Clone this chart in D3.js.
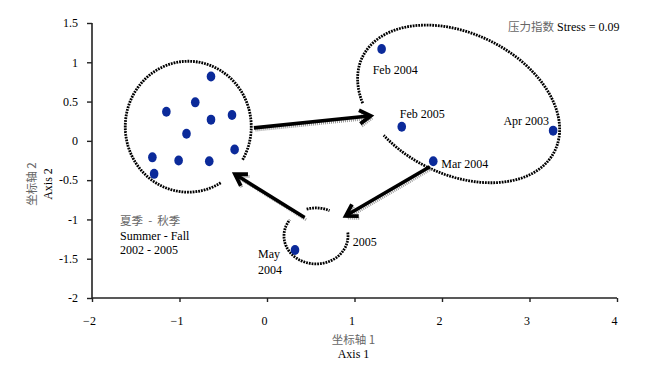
<!DOCTYPE html>
<html>
<head>
<meta charset="utf-8">
<script src="https://cdn.jsdelivr.net/npm/d3@7"></script>
<style>
  html, body { margin: 0; padding: 0; background: #fff; }
  svg { display: block; }
  text { font-family: "Liberation Serif", "Times New Roman", serif; font-size: 12px; fill: #000; }
  .cjk { font-family: "Noto Sans CJK SC", sans-serif; fill: #666; font-size: 11.5px; }
</style>
</head>
<body>
<svg id="chart" width="651" height="376"></svg>
<script>
// ---- data ----
const xTicks = [-2, -1, 0, 1, 2, 3, 4];
const yTicks = [1.5, 1, 0.5, 0, -0.5, -1, -1.5, -2];
const yTickLabels = ["1.5", "1", "0.5", "0", "-0.5", "-1", "-1.5", "-2"];

// Summer - Fall samples (unlabelled cluster)
const clusterX = [-0.64, -0.82, -1.15, -0.64, -0.40, -0.92, -0.37, -1.31, -1.01, -0.66, -1.29];
const clusterY = [0.82, 0.49, 0.37, 0.27, 0.33, 0.09, -0.11, -0.21, -0.25, -0.26, -0.42];

// labelled samples
const sampleNames = ["Feb 2004", "Feb 2005", "Apr 2003", "Mar 2004", "May 2004"];
const sampleX = [1.31, 1.54, 3.27, 1.90, 0.32];
const sampleY = [1.17, 0.18, 0.13, -0.26, -1.39];

// group outlines (data units; rotation in degrees)
const ellipseCX = [-0.90, 2.19, 0.56];
const ellipseCY = [0.18, 0.47, -1.21];
const ellipseRX = [0.72, 1.223, 0.366];
const ellipseRY = [0.833, 0.897, 0.356];
const ellipseRot = [0, 26, 0];
// drawn arcs (degrees) per ellipse
const ellipseArcs = [[[59, 392]], [[144, 480]], [[-107, -64], [-7, 216]]];

// arrows (data units)
const arrowX1 = [-0.15, 1.86, 0.43];
const arrowY1 = [0.165, -0.33, -0.976];
const arrowX2 = [1.185, 0.90, -0.366];
const arrowY2 = [0.318, -0.954, -0.424];

const stressLabel = ["压力指数", " Stress = 0.09"];
const seasonLabel = ["夏季  -  秋季", "Summer - Fall", "2002 - 2005"];

// ---- scales ----
const svg = d3.select("#chart");
const x = d3.scaleLinear().domain([-2, 4]).range([92, 617]);
const y = d3.scaleLinear().domain([-2, 1.5]).range([298, 23]);
const kx = x(1) - x(0), ky = y(0) - y(1);

// ---- axes ----
const axisColor = "#222";
const yAxis = svg.append("g").attr("transform", `translate(${x(-2)},0)`)
  .call(d3.axisLeft(y).tickValues(yTicks).tickFormat((d, i) => yTickLabels[i]).tickSize(5).tickPadding(9));
const xAxis = svg.append("g").attr("transform", `translate(0,${y(-2)})`)
  .call(d3.axisBottom(x).tickValues(xTicks).tickFormat(d3.format("d")).tickSize(4).tickPadding(14));
[yAxis, xAxis].forEach(a => {
  a.select(".domain").attr("stroke", axisColor).attr("stroke-width", 1.6);
  a.selectAll(".tick line").attr("stroke", axisColor).attr("stroke-width", 1.4);
  a.selectAll("text").attr("font-family", "Liberation Serif, serif").attr("font-size", 12).attr("fill", "#000");
});
xAxis.select(".domain").attr("d", `M${x(-2)},0H${x(4)}`);
yAxis.select(".domain").attr("d", `M0,${y(1.5)}V${y(-2)}`);
xAxis.selectAll(".tick text").attr("dx", -3);

// axis titles
svg.append("text").attr("class", "cjk").attr("x", x(1) - 1).attr("y", 344).attr("text-anchor", "middle").text("坐标轴 1");
svg.append("text").attr("x", x(1) - 1).attr("y", 358).attr("text-anchor", "middle").text("Axis 1");
svg.append("text").attr("class", "cjk").attr("transform", "translate(36,184) rotate(-90)").attr("text-anchor", "middle").text("坐标轴 2");
svg.append("text").attr("transform", "translate(51.5,184) rotate(-90)").attr("text-anchor", "middle").text("Axis 2");

// ---- ellipses ----
ellipseCX.forEach((cx, i) => {
  const px = x(cx), py = y(ellipseCY[i]);
  const a = ellipseRX[i] * kx, b = ellipseRY[i] * ky;
  const th = ellipseRot[i] * Math.PI / 180;
  ellipseArcs[i].forEach(([s, e]) => {
    const pts = d3.range(s, e + 0.5, 2).map(deg => {
      const t = deg * Math.PI / 180;
      const lx = a * Math.cos(t), ly = b * Math.sin(t);
      return [px + lx * Math.cos(th) - ly * Math.sin(th), py + lx * Math.sin(th) + ly * Math.cos(th)];
    });
    svg.append("path").attr("d", d3.line()(pts)).attr("fill", "none")
      .attr("stroke", "#000").attr("stroke-width", 2.8).attr("stroke-dasharray", "1.8,1");
  });
});

// ---- arrows ----
arrowX1.forEach((x1, i) => {
  const p1 = [x(x1), y(arrowY1[i])], p2 = [x(arrowX2[i]), y(arrowY2[i])];
  const ang = Math.atan2(p2[1] - p1[1], p2[0] - p1[0]);
  const L = 13, spread = 0.55;
  const b1 = [p2[0] - L * Math.cos(ang - spread), p2[1] - L * Math.sin(ang - spread)];
  const b2 = [p2[0] - L * Math.cos(ang + spread), p2[1] - L * Math.sin(ang + spread)];
  const shaftEnd = [p2[0] - 2 * Math.cos(ang), p2[1] - 2 * Math.sin(ang)];
  const shaft = `M${p1}L${shaftEnd}`;
  const head = `M${b1}L${p2}L${b2}`;
  // shadow
  [shaft, head].forEach(d => svg.append("path").attr("d", d).attr("transform", "translate(1.5,2.2)")
    .attr("fill", "none").attr("stroke", "#9a9a9a").attr("stroke-width", 3).attr("stroke-dasharray", "1,1"));
  svg.append("path").attr("d", shaft).attr("stroke", "#000").attr("stroke-width", 3.6).attr("fill", "none");
  svg.append("path").attr("d", head).attr("stroke", "#000").attr("stroke-width", 3.8)
    .attr("fill", "none").attr("stroke-linejoin", "miter").attr("stroke-miterlimit", 8);
});

// ---- points ----
const pointColor = "#0b2a9a";
svg.append("g").selectAll("ellipse").data(clusterX.map((d, i) => [d, clusterY[i]])).join("ellipse")
  .attr("cx", d => x(d[0])).attr("cy", d => y(d[1])).attr("rx", 4.3).attr("ry", 5).attr("fill", pointColor);
svg.append("g").selectAll("ellipse").data(sampleX.map((d, i) => [d, sampleY[i]])).join("ellipse")
  .attr("cx", d => x(d[0])).attr("cy", d => y(d[1])).attr("rx", 4.3).attr("ry", 5).attr("fill", pointColor);

// ---- sample labels ----
const labelDx = [-9, -2, -4, 8, -37];
const labelDy = [25, -9, -6, 7, 8];
const labelAnchor = ["start", "start", "end", "start", "start"];
sampleNames.forEach((n, i) => {
  const t = svg.append("text").attr("x", x(sampleX[i]) + labelDx[i]).attr("y", y(sampleY[i]) + labelDy[i])
    .attr("text-anchor", labelAnchor[i]);
  if (n === "May 2004") {
    t.append("tspan").text("May");
    t.append("tspan").attr("x", x(sampleX[i]) + labelDx[i]).attr("dy", 15.5).text("2004");
  } else t.text(n);
});
svg.append("text").attr("x", x(0.98)).attr("y", y(-1.336)).text("2005");

// ---- other annotations ----
const st = svg.append("text").attr("x", x(2.754)).attr("y", y(1.4));
st.append("tspan").attr("class", "cjk").attr("font-family", "Noto Sans CJK SC").attr("fill", "#666").text(stressLabel[0]);
st.append("tspan").text(stressLabel[1]);

svg.append("text").attr("class", "cjk").attr("x", x(-1.68)).attr("y", y(-1.069)).attr("xml:space", "preserve").style("white-space", "pre").text(seasonLabel[0]);
svg.append("text").attr("x", x(-1.68)).attr("y", y(-1.069) + 15.3).text(seasonLabel[1]);
svg.append("text").attr("x", x(-1.68)).attr("y", y(-1.069) + 29).text(seasonLabel[2]);
</script>
</body>
</html>
